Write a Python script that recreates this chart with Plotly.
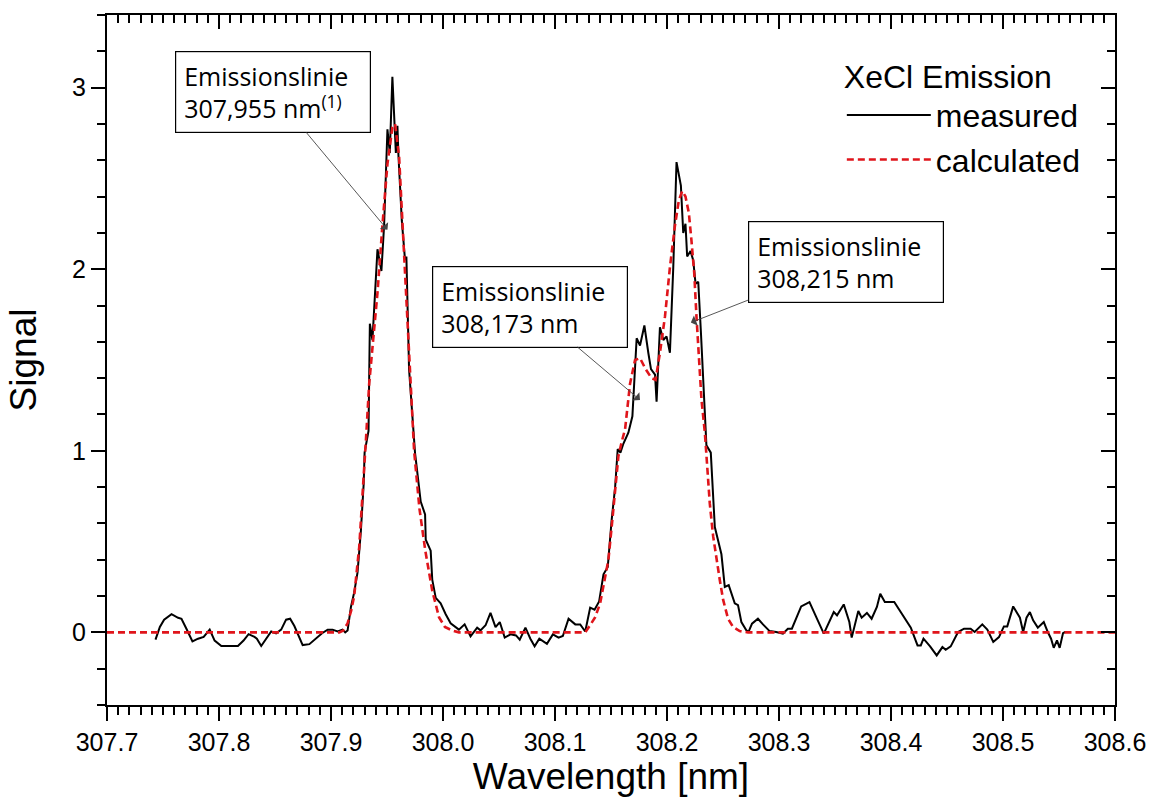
import plotly.graph_objects as go

# ---------------- data ----------------
meas_wl = [307.7433, 307.7472, 307.7510, 307.7576, 307.7635, 307.7665, 307.7709, 307.7763,
           307.7813, 307.7863, 307.7917, 307.7961, 307.8021, 307.8110, 307.8169, 307.8219,
           307.8264, 307.8317, 307.8338, 307.8377, 307.8421, 307.8466, 307.8510, 307.8555,
           307.8599, 307.8635, 307.8673, 307.8712, 307.8747, 307.8807, 307.8866, 307.8920,
           307.8970, 307.9014, 307.9059, 307.9103, 307.9127, 307.9148, 307.9178, 307.9207,
           307.9237, 307.9267, 307.9292, 307.9300, 307.9335, 307.9347, 307.9370, 307.9415,
           307.9450, 307.9474, 307.9504, 307.9525, 307.9548, 307.9579, 307.9593, 307.9602,
           307.9632, 307.9661, 307.9673, 307.9697, 307.9750, 307.9801, 307.9840, 307.9846,
           307.9890, 307.9904, 307.9935, 307.9979, 308.0024, 308.0068, 308.0142, 308.0193,
           308.0246, 308.0305, 308.0335, 308.0380, 308.0424, 308.0469, 308.0507, 308.0551,
           308.0602, 308.0652, 308.0685, 308.0736, 308.0780, 308.0818, 308.0860, 308.0928,
           308.0981, 308.1032, 308.1070, 308.1121, 308.1181, 308.1225, 308.1270, 308.1314,
           308.1353, 308.1394, 308.1433, 308.1471, 308.1506, 308.1537, 308.1560, 308.1584,
           308.1611, 308.1655, 308.1691, 308.1729, 308.1759, 308.1798, 308.1833, 308.1857,
           308.1893, 308.1907, 308.1937, 308.1967, 308.1996, 308.2026, 308.2056, 308.2085,
           308.2124, 308.2145, 308.2165, 308.2180, 308.2210, 308.2234, 308.2255, 308.2279,
           308.2303, 308.2323, 308.2352, 308.2391, 308.2427, 308.2486, 308.2516, 308.2551,
           308.2581, 308.2605, 308.2634, 308.2664, 308.2708, 308.2729, 308.2759, 308.2812,
           308.2857, 308.2916, 308.2975, 308.3035, 308.3079, 308.3115, 308.3198, 308.3272,
           308.3346, 308.3400, 308.3489, 308.3518, 308.3578, 308.3628, 308.3649, 308.3708,
           308.3738, 308.3785, 308.3827, 308.3874, 308.3904, 308.3945, 308.4029, 308.4103,
           308.4177, 308.4237, 308.4266, 308.4290, 308.4349, 308.4408, 308.4459, 308.4488,
           308.4533, 308.4599, 308.4652, 308.4711, 308.4747, 308.4815, 308.4860, 308.4913,
           308.4964, 308.5008, 308.5038, 308.5091, 308.5151, 308.5180, 308.5210, 308.5240,
           308.5269, 308.5311, 308.5364, 308.5400, 308.5429, 308.5453, 308.5482, 308.5506,
           308.5536, 308.5556]
meas_sig = [-0.04, 0.03, 0.07, 0.10, 0.08, 0.075, 0.02, -0.05,
            -0.035, -0.025, 0.015, -0.045, -0.075, -0.075, -0.075, -0.045,
            -0.01, -0.025, -0.035, -0.075, -0.035, 0.005, -0.005, 0.015,
            0.07, 0.075, 0.035, -0.025, -0.07, -0.065, -0.035, -0.005,
            0.015, 0.015, 0.005, 0.015, 0.0, 0.01, 0.14, 0.22,
            0.33, 0.56, 0.82, 0.99, 1.11, 1.70, 1.61, 2.11,
            1.99, 2.24, 2.77, 2.64, 3.06, 2.64, 2.79, 2.63,
            2.27, 2.05, 2.07, 1.45, 0.99, 0.72, 0.65, 0.51,
            0.45, 0.29, 0.19, 0.16, 0.10, 0.05, 0.015, 0.044,
            -0.022, 0.026, 0.011, 0.039, 0.107, 0.029, 0.057, -0.029,
            -0.011, -0.017, -0.04, 0.026, -0.035, -0.077, -0.035, -0.063,
            -0.011, -0.029, -0.02, 0.075, 0.044, 0.044, 0.005, 0.136,
            0.125, 0.17, 0.32, 0.36, 0.62, 0.80, 1.01, 0.99,
            1.04, 1.10, 1.19, 1.62, 1.58, 1.69, 1.54, 1.45,
            1.42, 1.27, 1.68, 1.61, 1.63, 1.54, 2.01, 2.59,
            2.46, 2.20, 2.25, 2.07, 2.10, 2.05, 1.92, 1.93,
            1.65, 1.37, 1.03, 0.99, 0.58, 0.43, 0.25, 0.26,
            0.21, 0.16, 0.15, 0.057, 0.011, 0.004, 0.048, 0.075,
            0.044, 0.007, 0.002, -0.007, 0.02, 0.02, 0.143, 0.167,
            0.066, -0.007, 0.112, 0.094, 0.154, 0.057, -0.029, 0.118,
            0.081, 0.107, 0.075, 0.14, 0.213, 0.167, 0.167, 0.099,
            0.026, -0.072, -0.072, -0.035, -0.077, -0.127, -0.081, -0.096,
            -0.077, 0.002, 0.02, 0.02, 0.002, 0.044, 0.015, -0.053,
            -0.026, 0.033, 0.033, 0.143, 0.081, 0.002, 0.081, 0.112,
            0.066, 0.026, 0.057, 0.002, -0.035, -0.085, -0.044, -0.085,
            -0.004, 0.002]

calc_wl = [307.7000, 307.9074, 307.9110, 307.9148, 307.9180, 307.9207, 307.9252, 307.9281,
           307.9312, 307.9341, 307.9370, 307.9415, 307.9459, 307.9504, 307.9548, 307.9572,
           307.9608, 307.9637, 307.9668, 307.9697, 307.9742, 307.9790, 307.9842, 307.9904,
           307.9964, 308.0017, 308.0082, 308.0142, 308.1077, 308.1270, 308.1314, 308.1359,
           308.1403, 308.1448, 308.1477, 308.1506, 308.1537, 308.1566, 308.1596, 308.1626,
           308.1670, 308.1715, 308.1759, 308.1809, 308.1862, 308.1898, 308.1937, 308.1982,
           308.2026, 308.2071, 308.2106, 308.2136, 308.2165, 308.2195, 308.2218, 308.2243,
           308.2263, 308.2284, 308.2308, 308.2338, 308.2352, 308.2382, 308.2412, 308.2441,
           308.2471, 308.2501, 308.2545, 308.2590, 308.2649, 308.2723, 308.6000]
calc_sig = [0.0, 0.0, 0.01, 0.05, 0.12, 0.20, 0.47, 0.73,
            1.06, 1.37, 1.58, 1.87, 2.24, 2.58, 2.78, 2.80,
            2.62, 2.26, 1.88, 1.50, 1.00, 0.68, 0.45, 0.23,
            0.084, 0.03, 0.01, 0.0, 0.0, 0.0, 0.04, 0.084,
            0.16, 0.31, 0.40, 0.58, 0.80, 0.97, 1.05, 1.12,
            1.37, 1.50, 1.51, 1.45, 1.40, 1.39, 1.54, 1.74,
            2.01, 2.24, 2.38, 2.43, 2.40, 2.31, 2.16, 1.98,
            1.74, 1.50, 1.28, 1.10, 0.99, 0.71, 0.53, 0.40,
            0.29, 0.18, 0.075, 0.03, 0.007, 0.0, 0.0]

# annotation boxes: text, box centre (wl, signal), arrow tip (wl, signal)
box_texts = ["Emissionslinie<br>307,955 nm<sup>(1)</sup>",
             "Emissionslinie<br>308,173 nm",
             "Emissionslinie<br>308,215 nm"]
box_wl = [307.8478, 308.0774, 308.3596]
box_sig = [2.976, 1.794, 2.041]
arrow_tip_wl = [307.9504, 308.1759, 308.2213]
arrow_tip_sig = [2.217, 1.280, 1.706]

x_range = [307.7, 308.6]
y_range = [-0.4, 3.4]
x_major, x_minor = 0.1, 0.01
y_major, y_minor = 1, 0.2

AX_FONT = "Liberation Sans, Arial, sans-serif"
BOX_FONT = "Open Sans, sans-serif"

fig = go.Figure()
fig.add_trace(go.Scatter(x=meas_wl, y=meas_sig, mode="lines", name="measured",
                         line=dict(color="black", width=2)))
fig.add_trace(go.Scatter(x=calc_wl, y=calc_sig, mode="lines", name="calculated",
                         line=dict(color="#e0151b", width=2.6, dash="7px,4px")))
# invisible trace that carries the mirrored top/right axes
fig.add_trace(go.Scatter(x=calc_wl, y=calc_sig, xaxis="x2", yaxis="y2", mode="lines",
                         line=dict(width=0, color="rgba(0,0,0,0)"), showlegend=False,
                         hoverinfo="skip"))

for t, bx, by, hx, hy in zip(box_texts, box_wl, box_sig, arrow_tip_wl, arrow_tip_sig):
    fig.add_annotation(x=hx, y=hy, ax=bx, ay=by, xref="x", yref="y", axref="x", ayref="y",
                       text=t, showarrow=True, arrowhead=1, arrowsize=2,
                       arrowwidth=0.9, arrowcolor="#444444", standoff=0,
                       align="left", valign="middle", width=178, height=64,
                       font=dict(family=BOX_FONT, size=25, color="black"),
                       bgcolor="white", bordercolor="black", borderwidth=1.2, borderpad=8)

base = dict(showgrid=False, zeroline=False, tickcolor="black", showline=True,
            linecolor="black", linewidth=2)
tickfont = dict(family=AX_FONT, size=25, color="black")
fig.update_layout(
    width=1158, height=799, autosize=False,
    margin=dict(l=107, r=40, t=15, b=94),
    paper_bgcolor="white", plot_bgcolor="white",
    xaxis=dict(range=x_range, tick0=x_range[0], dtick=x_major,
               tickformat=".1f", ticks="outside", ticklen=14, tickwidth=2,
               tickfont=tickfont,
               minor=dict(dtick=x_minor, ticks="outside", ticklen=8, tickwidth=2,
                          tickcolor="black"),
               title=dict(text="Wavelength [nm]", standoff=4,
                          font=dict(family=AX_FONT, size=37, color="black")),
               **base),
    yaxis=dict(range=y_range, tick0=0, dtick=y_major, ticks="outside",
               ticklen=14, tickwidth=2, tickfont=tickfont,
               minor=dict(dtick=y_minor, ticks="outside", ticklen=8, tickwidth=2,
                          tickcolor="black"),
               title=dict(text="Signal", standoff=24,
                          font=dict(family=AX_FONT, size=37, color="black")),
               **base),
    xaxis2=dict(overlaying="x", side="top", anchor="y2", range=x_range,
                tick0=x_range[0], dtick=x_major, ticks="inside", ticklen=14, tickwidth=2,
                showticklabels=False,
                minor=dict(dtick=x_minor, ticks="inside", ticklen=8, tickwidth=2,
                           tickcolor="black"),
                **base),
    yaxis2=dict(overlaying="y", side="right", anchor="x2", range=y_range,
                tick0=0, dtick=y_major, ticks="inside", ticklen=14, tickwidth=2,
                showticklabels=False,
                minor=dict(dtick=y_minor, ticks="inside", ticklen=8, tickwidth=2,
                           tickcolor="black"),
                **base),
    showlegend=True,
    legend=dict(x=0.729, y=0.955, xanchor="left", yanchor="top",
                bgcolor="rgba(0,0,0,0)", borderwidth=0,
                font=dict(family=AX_FONT, size=32, color="black"),
                title=dict(text="XeCl Emission",
                           font=dict(family=AX_FONT, size=32, color="black")),
                itemwidth=84, tracegroupgap=0),
)

fig.write_html("out.html")
